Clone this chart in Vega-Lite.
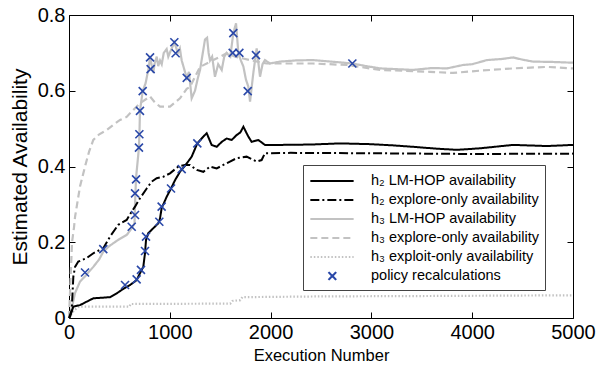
{
  "$schema": "https://vega.github.io/schema/vega-lite/v6.json",
  "width": 504,
  "height": 303,
  "autosize": "none",
  "padding": {"left": 69, "top": 15, "right": 23, "bottom": 48},
  "background": "white",
  "config": {
    "view": {"stroke": "#000", "strokeWidth": 1},
    "axis": {"domain": false, "grid": false, "ticks": true, "tickColor": "#000", "tickSize": 6, "tickWidth": 1, "offset": -6, "labelFlush": false,
             "labelFont": "Liberation Sans", "labelFontSize": 20, "labelColor": "#000",
             "titleFont": "Liberation Sans", "titleColor": "#000", "titleFontWeight": "normal"}
  },
  "datasets": {
    "lines": [
      {"s":"h2L","x":0,"y":0},{"s":"h2L","x":10,"y":0.003},{"s":"h2L","x":43,"y":0.03},{"s":"h2L","x":109,"y":0.034},{"s":"h2L","x":175,"y":0.043},{"s":"h2L","x":241,"y":0.052},{"s":"h2L","x":407,"y":0.055},{"s":"h2L","x":473,"y":0.065},{"s":"h2L","x":539,"y":0.077},{"s":"h2L","x":605,"y":0.087},{"s":"h2L","x":671,"y":0.10},{"s":"h2L","x":704,"y":0.118},{"s":"h2L","x":737,"y":0.135},{"s":"h2L","x":754,"y":0.171},{"s":"h2L","x":764,"y":0.206},{"s":"h2L","x":787,"y":0.224},{"s":"h2L","x":836,"y":0.237},{"s":"h2L","x":886,"y":0.25},{"s":"h2L","x":903,"y":0.263},{"s":"h2L","x":919,"y":0.29},{"s":"h2L","x":969,"y":0.32},{"s":"h2L","x":1012,"y":0.342},{"s":"h2L","x":1052,"y":0.364},{"s":"h2L","x":1101,"y":0.386},{"s":"h2L","x":1168,"y":0.408},{"s":"h2L","x":1217,"y":0.426},{"s":"h2L","x":1273,"y":0.461},{"s":"h2L","x":1333,"y":0.479},{"s":"h2L","x":1366,"y":0.488},{"s":"h2L","x":1415,"y":0.457},{"s":"h2L","x":1465,"y":0.452},{"s":"h2L","x":1515,"y":0.465},{"s":"h2L","x":1564,"y":0.474},{"s":"h2L","x":1614,"y":0.47},{"s":"h2L","x":1663,"y":0.483},{"s":"h2L","x":1700,"y":0.49},{"s":"h2L","x":1730,"y":0.505},{"s":"h2L","x":1779,"y":0.479},{"s":"h2L","x":1812,"y":0.465},{"s":"h2L","x":1878,"y":0.47},{"s":"h2L","x":1944,"y":0.457},{"s":"h2L","x":1994,"y":0.457},{"s":"h2L","x":2093,"y":0.457},{"s":"h2L","x":2400,"y":0.458},{"s":"h2L","x":2689,"y":0.461},{"s":"h2L","x":2986,"y":0.459},{"s":"h2L","x":3200,"y":0.456},{"s":"h2L","x":3413,"y":0.452},{"s":"h2L","x":3650,"y":0.447},{"s":"h2L","x":3850,"y":0.444},{"s":"h2L","x":4077,"y":0.448},{"s":"h2L","x":4405,"y":0.457},{"s":"h2L","x":4742,"y":0.454},{"s":"h2L","x":5000,"y":0.457},
      {"s":"h2E","x":0,"y":0},{"s":"h2E","x":27,"y":0.021},{"s":"h2E","x":43,"y":0.109},{"s":"h2E","x":60,"y":0.135},{"s":"h2E","x":92,"y":0.149},{"s":"h2E","x":175,"y":0.158},{"s":"h2E","x":241,"y":0.171},{"s":"h2E","x":340,"y":0.184},{"s":"h2E","x":407,"y":0.215},{"s":"h2E","x":489,"y":0.246},{"s":"h2E","x":572,"y":0.259},{"s":"h2E","x":622,"y":0.281},{"s":"h2E","x":655,"y":0.294},{"s":"h2E","x":704,"y":0.316},{"s":"h2E","x":771,"y":0.342},{"s":"h2E","x":820,"y":0.36},{"s":"h2E","x":870,"y":0.369},{"s":"h2E","x":936,"y":0.373},{"s":"h2E","x":1002,"y":0.382},{"s":"h2E","x":1085,"y":0.40},{"s":"h2E","x":1151,"y":0.404},{"s":"h2E","x":1200,"y":0.404},{"s":"h2E","x":1267,"y":0.391},{"s":"h2E","x":1333,"y":0.386},{"s":"h2E","x":1399,"y":0.40},{"s":"h2E","x":1465,"y":0.395},{"s":"h2E","x":1531,"y":0.404},{"s":"h2E","x":1597,"y":0.413},{"s":"h2E","x":1663,"y":0.422},{"s":"h2E","x":1762,"y":0.426},{"s":"h2E","x":1862,"y":0.413},{"s":"h2E","x":1911,"y":0.417},{"s":"h2E","x":1944,"y":0.435},{"s":"h2E","x":2200,"y":0.436},{"s":"h2E","x":3000,"y":0.435},{"s":"h2E","x":4000,"y":0.433},{"s":"h2E","x":5000,"y":0.434},
      {"s":"h3L","x":0,"y":0},{"s":"h3L","x":30,"y":0.03},{"s":"h3L","x":60,"y":0.066},{"s":"h3L","x":109,"y":0.096},{"s":"h3L","x":159,"y":0.11},{"s":"h3L","x":241,"y":0.135},{"s":"h3L","x":300,"y":0.155},{"s":"h3L","x":340,"y":0.175},{"s":"h3L","x":400,"y":0.19},{"s":"h3L","x":486,"y":0.206},{"s":"h3L","x":575,"y":0.22},{"s":"h3L","x":625,"y":0.238},{"s":"h3L","x":650,"y":0.25},{"s":"h3L","x":655,"y":0.30},{"s":"h3L","x":665,"y":0.37},{"s":"h3L","x":694,"y":0.45},{"s":"h3L","x":700,"y":0.5},{"s":"h3L","x":704,"y":0.547},{"s":"h3L","x":731,"y":0.599},{"s":"h3L","x":760,"y":0.62},{"s":"h3L","x":790,"y":0.66},{"s":"h3L","x":804,"y":0.688},{"s":"h3L","x":836,"y":0.648},{"s":"h3L","x":850,"y":0.672},{"s":"h3L","x":870,"y":0.69},{"s":"h3L","x":885,"y":0.665},{"s":"h3L","x":903,"y":0.68},{"s":"h3L","x":920,"y":0.67},{"s":"h3L","x":940,"y":0.70},{"s":"h3L","x":969,"y":0.71},{"s":"h3L","x":985,"y":0.69},{"s":"h3L","x":1000,"y":0.70},{"s":"h3L","x":1045,"y":0.728},{"s":"h3L","x":1080,"y":0.70},{"s":"h3L","x":1100,"y":0.712},{"s":"h3L","x":1118,"y":0.68},{"s":"h3L","x":1168,"y":0.634},{"s":"h3L","x":1190,"y":0.65},{"s":"h3L","x":1217,"y":0.58},{"s":"h3L","x":1250,"y":0.60},{"s":"h3L","x":1275,"y":0.63},{"s":"h3L","x":1300,"y":0.655},{"s":"h3L","x":1349,"y":0.735},{"s":"h3L","x":1370,"y":0.74},{"s":"h3L","x":1385,"y":0.70},{"s":"h3L","x":1399,"y":0.68},{"s":"h3L","x":1420,"y":0.69},{"s":"h3L","x":1448,"y":0.637},{"s":"h3L","x":1480,"y":0.67},{"s":"h3L","x":1515,"y":0.655},{"s":"h3L","x":1540,"y":0.69},{"s":"h3L","x":1564,"y":0.70},{"s":"h3L","x":1600,"y":0.69},{"s":"h3L","x":1630,"y":0.752},{"s":"h3L","x":1657,"y":0.778},{"s":"h3L","x":1680,"y":0.70},{"s":"h3L","x":1705,"y":0.68},{"s":"h3L","x":1730,"y":0.664},{"s":"h3L","x":1755,"y":0.63},{"s":"h3L","x":1779,"y":0.611},{"s":"h3L","x":1796,"y":0.571},{"s":"h3L","x":1830,"y":0.65},{"s":"h3L","x":1862,"y":0.712},{"s":"h3L","x":1895,"y":0.637},{"s":"h3L","x":1920,"y":0.67},{"s":"h3L","x":1944,"y":0.681},{"s":"h3L","x":1994,"y":0.672},{"s":"h3L","x":2093,"y":0.677},{"s":"h3L","x":2250,"y":0.68},{"s":"h3L","x":2421,"y":0.681},{"s":"h3L","x":2600,"y":0.677},{"s":"h3L","x":2811,"y":0.672},{"s":"h3L","x":2950,"y":0.665},{"s":"h3L","x":3087,"y":0.659},{"s":"h3L","x":3250,"y":0.657},{"s":"h3L","x":3413,"y":0.655},{"s":"h3L","x":3600,"y":0.66},{"s":"h3L","x":3750,"y":0.659},{"s":"h3L","x":3909,"y":0.668},{"s":"h3L","x":4000,"y":0.67},{"s":"h3L","x":4146,"y":0.681},{"s":"h3L","x":4300,"y":0.684},{"s":"h3L","x":4405,"y":0.688},{"s":"h3L","x":4500,"y":0.682},{"s":"h3L","x":4603,"y":0.677},{"s":"h3L","x":4800,"y":0.676},{"s":"h3L","x":5000,"y":0.674},
      {"s":"h3E","x":0,"y":0},{"s":"h3E","x":15,"y":0.10},{"s":"h3E","x":30,"y":0.20},{"s":"h3E","x":50,"y":0.24},{"s":"h3E","x":60,"y":0.267},{"s":"h3E","x":109,"y":0.347},{"s":"h3E","x":159,"y":0.40},{"s":"h3E","x":200,"y":0.44},{"s":"h3E","x":241,"y":0.47},{"s":"h3E","x":300,"y":0.485},{"s":"h3E","x":374,"y":0.496},{"s":"h3E","x":440,"y":0.51},{"s":"h3E","x":506,"y":0.523},{"s":"h3E","x":572,"y":0.531},{"s":"h3E","x":622,"y":0.545},{"s":"h3E","x":704,"y":0.567},{"s":"h3E","x":804,"y":0.585},{"s":"h3E","x":850,"y":0.57},{"s":"h3E","x":903,"y":0.558},{"s":"h3E","x":1002,"y":0.558},{"s":"h3E","x":1101,"y":0.58},{"s":"h3E","x":1168,"y":0.605},{"s":"h3E","x":1200,"y":0.61},{"s":"h3E","x":1300,"y":0.663},{"s":"h3E","x":1432,"y":0.681},{"s":"h3E","x":1500,"y":0.69},{"s":"h3E","x":1564,"y":0.699},{"s":"h3E","x":1650,"y":0.69},{"s":"h3E","x":1796,"y":0.681},{"s":"h3E","x":1961,"y":0.672},{"s":"h3E","x":2127,"y":0.672},{"s":"h3E","x":2421,"y":0.672},{"s":"h3E","x":2758,"y":0.668},{"s":"h3E","x":3087,"y":0.655},{"s":"h3E","x":3581,"y":0.65},{"s":"h3E","x":3809,"y":0.647},{"s":"h3E","x":4077,"y":0.653},{"s":"h3E","x":4405,"y":0.659},{"s":"h3E","x":4742,"y":0.663},{"s":"h3E","x":5000,"y":0.659},
      {"s":"h3X","x":0,"y":0},{"s":"h3X","x":50,"y":0.02},{"s":"h3X","x":100,"y":0.03},{"s":"h3X","x":600,"y":0.03},{"s":"h3X","x":610,"y":0.037},{"s":"h3X","x":1600,"y":0.038},{"s":"h3X","x":1620,"y":0.045},{"s":"h3X","x":1700,"y":0.047},{"s":"h3X","x":1720,"y":0.055},{"s":"h3X","x":2500,"y":0.057},{"s":"h3X","x":3500,"y":0.058},{"s":"h3X","x":5000,"y":0.06}
    ],
    "pts": [
      {"s":"pol","x":159,"y":0.12},{"s":"pol","x":340,"y":0.182},{"s":"pol","x":556,"y":0.087},{"s":"pol","x":622,"y":0.241},{"s":"pol","x":655,"y":0.272},{"s":"pol","x":655,"y":0.329},{"s":"pol","x":665,"y":0.366},{"s":"pol","x":671,"y":0.102},{"s":"pol","x":694,"y":0.45},{"s":"pol","x":698,"y":0.485},{"s":"pol","x":704,"y":0.547},{"s":"pol","x":714,"y":0.127},{"s":"pol","x":731,"y":0.599},{"s":"pol","x":754,"y":0.177},{"s":"pol","x":764,"y":0.215},{"s":"pol","x":804,"y":0.688},{"s":"pol","x":810,"y":0.657},{"s":"pol","x":896,"y":0.254},{"s":"pol","x":919,"y":0.294},{"s":"pol","x":1012,"y":0.342},{"s":"pol","x":1045,"y":0.728},{"s":"pol","x":1058,"y":0.699},{"s":"pol","x":1118,"y":0.393},{"s":"pol","x":1168,"y":0.634},{"s":"pol","x":1273,"y":0.461},{"s":"pol","x":1624,"y":0.70},{"s":"pol","x":1630,"y":0.752},{"s":"pol","x":1690,"y":0.70},{"s":"pol","x":1773,"y":0.599},{"s":"pol","x":1855,"y":0.694},{"s":"pol","x":2811,"y":0.672}
    ]
  },
  "layer": [
    {
      "data": {"name": "lines"},
      "transform": [{"filter": "datum.s === 'h3L' || datum.s === 'h3E' || datum.s === 'h3X'"}],
      "mark": {"type": "line", "strokeWidth": 2.2, "interpolate": "linear"},
      "encoding": {
        "x": {"field": "x", "type": "quantitative", "scale": {"domain": [0, 5000], "nice": false},
              "axis": {"orient": "bottom", "values": [0,1000,2000,3000,4000,5000], "format": "d", "labelPadding": 4, "title": "Execution Number", "titleFontSize": 16.5, "titleY": 48, "titleBaseline": "alphabetic"}},
        "y": {"field": "y", "type": "quantitative", "scale": {"domain": [0, 0.8], "nice": false},
              "axis": {"orient": "left", "values": [0,0.2,0.4,0.6,0.8], "labelPadding": 4, "labelExpr": "datum.value == 0 ? '0' : format(datum.value, '.1f')", "title": "Estimated Availability", "titleFontSize": 21, "titleX": -55, "titleBaseline": "middle"}},
        "color": {"field": "s", "type": "nominal",
          "scale": {"domain": ["h2L","h2E","h3L","h3E","h3X","pol"], "range": ["#000000","#000000","#c2c2c2","#c2c2c2","#c2c2c2","#2a48a8"]},
          "legend": {"title": null, "orient": "none", "legendX": 234, "legendY": 150,
            "labelExpr": "{'h2L':'h₂ LM-HOP availability','h2E':'h₂ explore-only availability','h3L':'h₃ LM-HOP availability','h3E':'h₃ explore-only availability','h3X':'h₃ exploit-only availability','pol':'policy recalculations'}[datum.value]",
            "labelFont": "Liberation Sans", "labelFontSize": 14.5, "labelColor": "#000", "labelLimit": 400,
            "symbolType": "stroke", "symbolSize": 300, "symbolStrokeWidth": 2,
            "strokeColor": "#444", "fillColor": "#fff", "padding": 6, "rowPadding": 2, "labelOffset": 42,
            "encode": {"symbols": {"update": {
              "shape": {"signal": "datum.value === 'pol' ? 'M1.09,-0.45L1.99,0.45M1.09,0.45L1.99,-0.45' : 'M-1,0L4,0'"}}}}}},
        "strokeDash": {"field": "s", "type": "nominal",
          "scale": {"domain": ["h2L","h2E","h3L","h3E","h3X","pol"], "range": [[1,0],[9,3,2,3],[1,0],[7,4],[1.5,2],[1,0]]}}
      }
    },
    {
      "data": {"name": "lines"},
      "transform": [{"filter": "datum.s === 'h2L' || datum.s === 'h2E'"}],
      "mark": {"type": "line", "strokeWidth": 2},
      "encoding": {
        "x": {"field": "x", "type": "quantitative", "axis": {"orient": "top", "values": [0,1000,2000,3000,4000,5000], "labels": false, "title": null}},
        "y": {"field": "y", "type": "quantitative", "axis": {"orient": "right", "values": [0,0.2,0.4,0.6,0.8], "labels": false, "title": null}},
        "color": {"field": "s", "type": "nominal"},
        "strokeDash": {"field": "s", "type": "nominal"}
      }
    },
    {
      "data": {"name": "pts"},
      "mark": {"type": "point", "shape": "M-1,-1L1,1M-1,1L1,-1", "filled": false, "size": 64, "strokeWidth": 1.6, "opacity": 1},
      "encoding": {
        "x": {"field": "x", "type": "quantitative", "axis": null},
        "y": {"field": "y", "type": "quantitative", "axis": null},
        "color": {"field": "s", "type": "nominal"}
      }
    }
  ],
  "resolve": {"axis": {"x": "independent", "y": "independent"}}
}
